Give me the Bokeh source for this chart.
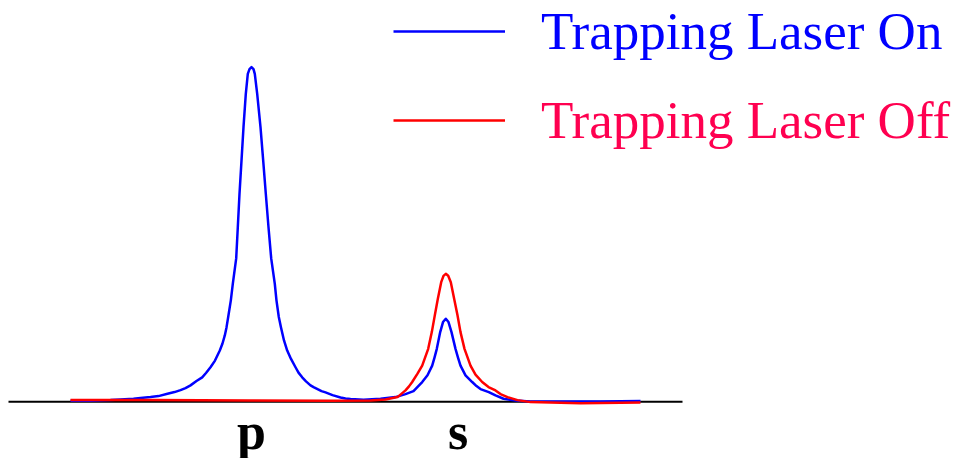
from bokeh.plotting import figure
from bokeh.models import Range1d, Legend, LegendItem
from bokeh.core.properties import value
from bokeh.embed import file_html
from bokeh.resources import INLINE

# Detuning (arb. units, p resonance at 0) and fluorescence signal (normalised)
x_on = [-18.1, -16.1, -14.1, -13.1, -11.8, -11.1, -10.1, -9.3, -8.4, -7.7, -7.1,
        -6.6, -6.1, -5.5, -4.93, -4.55, -4.1, -3.65, -3.17, -2.9, -2.67, -2.5,
        -2.33, -2.07, -1.87, -1.53, -1.37, -1.2, -1.0, -0.8, -0.57, -0.37, -0.2,
        0.0, 0.2, 0.33, 0.57, 0.9, 1.17, 1.43, 1.7, 1.97, 2.33, 2.5, 2.73, 2.95,
        3.25, 3.57, 3.95, 4.4, 4.7, 5.07, 5.45, 5.9, 6.25, 6.6, 7.0, 7.4, 8.1,
        8.9, 9.4, 9.9, 11.2, 12.9, 14.4, 15.4, 16.2, 17.07, 17.6, 18.07, 18.3,
        18.53, 18.87, 19.15, 19.43, 19.7, 20.0, 20.4, 20.65, 20.9, 21.4, 22.07,
        22.5, 22.9, 23.73, 24.4, 25.2, 26.4, 27.9, 30.9, 34.9, 38.9]
y_on = [0.003, 0.003, 0.005, 0.007, 0.009, 0.011, 0.014, 0.017, 0.024, 0.029, 0.035,
        0.041, 0.049, 0.062, 0.073, 0.086, 0.103, 0.123, 0.153, 0.174, 0.198, 0.222,
        0.253, 0.302, 0.352, 0.428, 0.521, 0.621, 0.720, 0.820, 0.919, 0.979, 0.993,
        0.999, 0.993, 0.979, 0.919, 0.820, 0.720, 0.621, 0.521, 0.428, 0.352, 0.302, 0.253, 0.222,
        0.183, 0.153, 0.128, 0.103, 0.087, 0.073, 0.061, 0.049, 0.043, 0.038, 0.032, 0.028, 0.020,
        0.013, 0.010, 0.008, 0.006, 0.009, 0.014, 0.023, 0.032, 0.059, 0.079, 0.108, 0.132,
        0.158, 0.208, 0.238, 0.248, 0.238, 0.208, 0.158, 0.132, 0.108, 0.079, 0.059,
        0.047, 0.038, 0.029, 0.019, 0.009, 0.004, 0.001, 0.001, 0.001, 0.002]

x_off = [-18.1, -10.1, -0.1, 7.9, 11.9, 13.4, 14.6, 15.4, 15.75, 16.07, 16.6, 17.07,
         17.67, 18.03, 18.33, 18.63, 18.97, 19.2, 19.43, 19.67, 19.93, 20.27,
         20.6, 20.9, 21.3, 21.9, 22.4, 23.07, 23.7, 24.4, 24.9, 25.6, 26.6, 27.9,
         32.9, 38.9]
y_off = [0.005, 0.005, 0.004, 0.003, 0.004, 0.007, 0.014, 0.034, 0.046, 0.059, 0.084, 0.108,
         0.158, 0.208, 0.258, 0.307, 0.357, 0.376, 0.382, 0.376, 0.357, 0.307,
         0.258, 0.208, 0.158, 0.108, 0.081, 0.059, 0.044, 0.034, 0.023, 0.014, 0.005, -0.001,
         -0.004, -0.002]

# Transition labels under the baseline
line_names = ["p", "s"]
line_pos = [0.0, 20.65]

# Extent of the baseline
base_x = [-24.3, 43.1]
base_y = [0.0, 0.0]

W, H = 961, 458
p = figure(width=W, height=H, output_backend="svg", toolbar_location=None,
           x_range=Range1d(-25.1, 71.0), y_range=Range1d(-0.1693, 1.1979),
           min_border=0, min_border_left=0, min_border_right=0,
           min_border_top=0, min_border_bottom=0)
p.axis.visible = False
p.grid.visible = False
p.outline_line_color = None
p.background_fill_color = "white"
p.border_fill_color = "white"

p.line(base_x, base_y, line_color="black", line_width=2)
r_on = p.line(x_on, y_on, line_color="#0000ff", line_width=2.5, line_join="round")
r_off = p.line(x_off, y_off, line_color="#ff0000", line_width=2.5, line_join="round")

p.text(x=line_pos, y=[0.0, 0.0], text=line_names, y_offset=30,
       text_font=value("Liberation Serif"), text_font_style="bold",
       text_font_size="52px", text_align="center", text_baseline="alphabetic",
       text_color="black")


def make_legend(label, renderer, color, mid_px):
    item_h = 64
    leg = Legend(items=[LegendItem(label=label, renderers=[renderer])],
                 location=(393, H - (mid_px + item_h // 2)),
                 padding=0, margin=0, spacing=0,
                 glyph_width=112, glyph_height=item_h, label_height=item_h,
                 label_standoff=36,
                 label_text_font="Liberation Serif", label_text_font_size="53px",
                 label_text_color=color,
                 border_line_alpha=0, background_fill_alpha=0)
    return leg


p.add_layout(make_legend("Trapping Laser On", r_on, "#0000ff", 31))
p.add_layout(make_legend("Trapping Laser Off", r_off, "#ff0050", 120))

open("out.html", "w").write(file_html(p, INLINE))
